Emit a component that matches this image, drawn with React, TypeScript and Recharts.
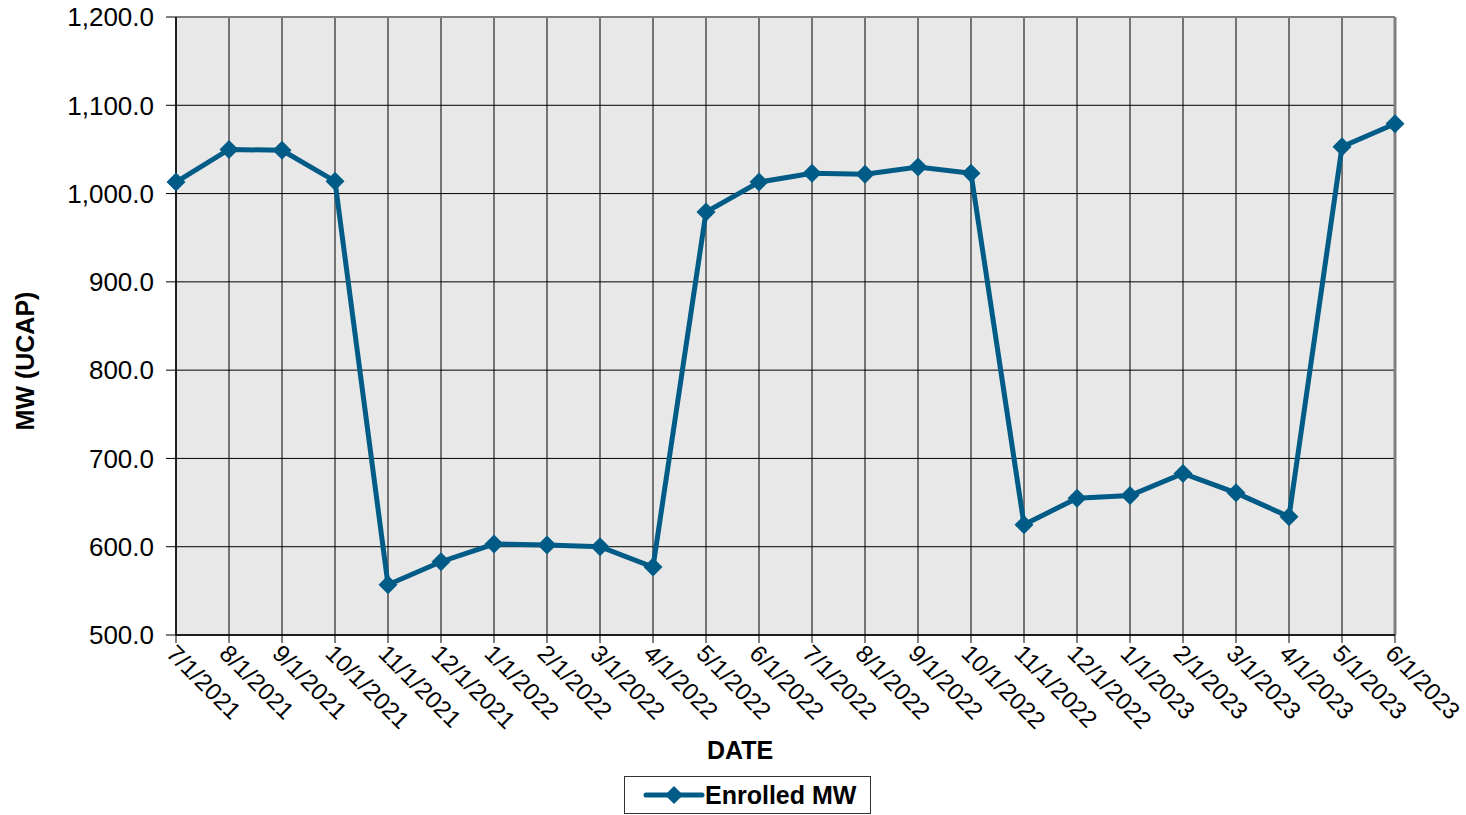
import React from 'react';
import { LineChart, Line, XAxis, YAxis, CartesianGrid, ReferenceLine } from 'recharts';

const dates = [
  '7/1/2021', '8/1/2021', '9/1/2021', '10/1/2021', '11/1/2021', '12/1/2021',
  '1/1/2022', '2/1/2022', '3/1/2022', '4/1/2022', '5/1/2022', '6/1/2022',
  '7/1/2022', '8/1/2022', '9/1/2022', '10/1/2022', '11/1/2022', '12/1/2022',
  '1/1/2023', '2/1/2023', '3/1/2023', '4/1/2023', '5/1/2023', '6/1/2023',
];
const enrolledMW = [
  1013, 1050, 1049, 1014, 557, 583,
  603, 602, 600, 577, 979, 1013,
  1023, 1022, 1030, 1023, 625, 655,
  658, 683, 661, 634, 1053, 1079,
];
const yTicks = [500, 600, 700, 800, 900, 1000, 1100, 1200];

const data = dates.map((d, i) => ({ date: d, mw: enrolledMW[i] }));

const FONT = '"Liberation Sans", Arial, Helvetica, sans-serif';
const LINE_COLOR = '#005C86';

const fmt = (v: number) =>
  v.toLocaleString('en-US', { minimumFractionDigits: 1, maximumFractionDigits: 1 });

const Diamond = (props: any) => {
  const { cx, cy } = props;
  if (cx == null || cy == null) return null;
  const r = 9.5;
  return (
    <polygon
      points={`${cx},${cy - r} ${cx + r},${cy} ${cx},${cy + r} ${cx - r},${cy}`}
      fill={LINE_COLOR}
    />
  );
};

const XTick = (props: any) => {
  const { x, y, payload } = props;
  const ox = x - 11;
  const oy = y + 10;
  return (
    <text
      x={ox}
      y={oy}
      transform={`rotate(45, ${ox}, ${oy})`}
      textAnchor="start"
      fontFamily={FONT}
      fontSize={24}
      fill="#000"
    >
      {payload.value}
    </text>
  );
};

export default function App() {
  return (
    <div style={{ position: 'absolute', left: 0, top: 0, width: 1466, height: 815, background: '#fff' }}>
      <LineChart
        width={1466}
        height={815}
        data={data}
        margin={{ top: 17, right: 71, left: 0, bottom: 0 }}
        style={{ overflow: 'visible' }}
      >
        <CartesianGrid stroke="#000" strokeWidth={1} fill="#E8E8E8" />
        <XAxis
          dataKey="date"
          interval={0}
          height={180}
          tick={<XTick />}
          tickSize={8}
          tickLine={{ stroke: '#000' }}
          axisLine={{ stroke: '#000', strokeWidth: 1.5 }}
        />
        <YAxis
          width={176}
          domain={[500, 1200]}
          ticks={yTicks}
          interval={0}
          tickFormatter={fmt}
          tickSize={10}
          tickMargin={12}
          tick={{ fontFamily: FONT, fontSize: 26, fill: '#000' }}
          tickLine={{ stroke: '#000' }}
          axisLine={{ stroke: '#000', strokeWidth: 1.5 }}
        />
        <ReferenceLine y={1200} stroke="#808080" strokeWidth={2} />
        <ReferenceLine x="6/1/2023" stroke="#808080" strokeWidth={3} />
        <Line
          type="linear"
          dataKey="mw"
          stroke={LINE_COLOR}
          strokeWidth={5}
          dot={<Diamond />}
          activeDot={false}
          isAnimationActive={false}
        />
      </LineChart>

      <div
        style={{
          position: 'absolute',
          left: 25,
          top: 361,
          transform: 'translate(-50%, -50%) rotate(-90deg)',
          fontFamily: FONT,
          fontWeight: 'bold',
          fontSize: 25,
          whiteSpace: 'nowrap',
          color: '#000',
        }}
      >
        MW (UCAP)
      </div>

      <div
        style={{
          position: 'absolute',
          left: 740,
          top: 750,
          transform: 'translate(-50%, -50%)',
          fontFamily: FONT,
          fontWeight: 'bold',
          fontSize: 25,
          whiteSpace: 'nowrap',
          color: '#000',
        }}
      >
        DATE
      </div>

      <div
        style={{
          position: 'absolute',
          left: 624,
          top: 776,
          width: 247,
          height: 38,
          border: '1px solid #333',
          boxSizing: 'border-box',
          display: 'flex',
          alignItems: 'center',
          fontFamily: FONT,
          fontWeight: 'bold',
          fontSize: 25,
          color: '#000',
        }}
      >
        <svg width={80} height={30} style={{ flex: 'none' }}>
          <line x1={21} y1={15} x2={77} y2={15} stroke={LINE_COLOR} strokeWidth={5} strokeLinecap="round" />
          <polygon points="49,6 58,15 49,24 40,15" fill={LINE_COLOR} />
        </svg>
        <span style={{ whiteSpace: 'nowrap' }}>Enrolled MW</span>
      </div>
    </div>
  );
}
